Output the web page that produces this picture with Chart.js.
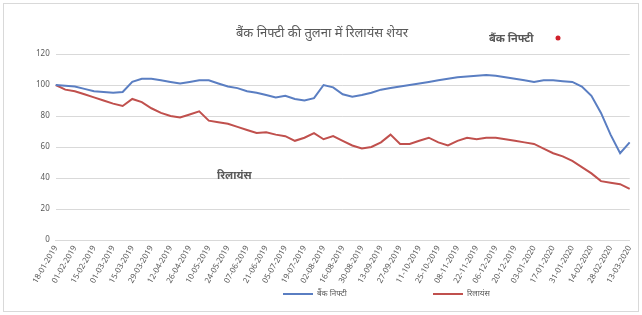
<!DOCTYPE html>
<html>
<head>
<meta charset="utf-8">
<script src="https://cdn.jsdelivr.net/npm/chart.js@4.4.1/dist/chart.umd.min.js"></script>
<style>
  html, body { margin: 0; padding: 0; background: #fff; }
  #wrap { width: 642px; height: 315px; position: relative; }
</style>
</head>
<body>
<div id="wrap"><canvas class="js-chart"></canvas></div>
<script>
const ctx = document.querySelector(".js-chart").getContext("2d");

// ===== data =====
const chartTitle = "बैंक निफ्टी की तुलना में रिलायंस शेयर";
const indexName = "बैंक निफ्टी";
const stockName = "रिलायंस";

const dates = [
  "18-01-2019", "25-01-2019", "01-02-2019", "08-02-2019", "15-02-2019", "22-02-2019",
  "01-03-2019", "08-03-2019", "15-03-2019", "22-03-2019", "29-03-2019", "05-04-2019",
  "12-04-2019", "19-04-2019", "26-04-2019", "03-05-2019", "10-05-2019", "17-05-2019",
  "24-05-2019", "31-05-2019", "07-06-2019", "14-06-2019", "21-06-2019", "28-06-2019",
  "05-07-2019", "12-07-2019", "19-07-2019", "26-07-2019", "02-08-2019", "09-08-2019",
  "16-08-2019", "23-08-2019", "30-08-2019", "06-09-2019", "13-09-2019", "20-09-2019",
  "27-09-2019", "04-10-2019", "11-10-2019", "18-10-2019", "25-10-2019", "01-11-2019",
  "08-11-2019", "15-11-2019", "22-11-2019", "29-11-2019", "06-12-2019", "13-12-2019",
  "20-12-2019", "27-12-2019", "03-01-2020", "10-01-2020", "17-01-2020", "24-01-2020",
  "31-01-2020", "07-02-2020", "14-02-2020", "21-02-2020", "28-02-2020", "06-03-2020",
  "13-03-2020"
];

const indexValues = [
  100, 99.5, 99, 97.5, 96, 95.5, 95, 95.5, 102, 104,
  104, 103, 102, 101, 102, 103, 103, 101, 99, 98,
  96, 95, 93.5, 92, 93, 91, 90, 91.5, 100, 98.5,
  94, 92.5, 93.5, 95, 97, 98, 99, 100, 101, 102,
  103, 104, 105, 105.5, 106, 106.5, 106, 105, 104, 103,
  102, 103, 103, 102.5, 102, 99, 93, 82, 68, 56,
  63
];

const stockValues = [
  100, 97, 96, 94, 92, 90, 88, 86.5, 91, 89,
  85, 82, 80, 79, 81, 83, 77, 76, 75, 73,
  71, 69, 69.5, 68, 67, 64, 66, 69, 65, 67,
  64, 61, 59, 60, 63, 68, 62, 62, 64, 66,
  63, 61, 64, 66, 65, 66, 66, 65, 64, 63,
  62, 59, 56, 54, 51, 47, 43, 38, 37, 36,
  33
];

const yTicks = [0, 20, 40, 60, 80, 100, 120];
// ===== data =====

const extras = {
  id: "extras",
  afterDraw(chart) {
    const c = chart.ctx;
    c.save();
    // frame
    c.strokeStyle = "#d9d9d9";
    c.lineWidth = 1;
    c.strokeRect(3.5, 3.5, 635, 308);

    // title
    c.fillStyle = "#595959";
    c.font = "13px 'Noto Sans', sans-serif";
    c.textAlign = "center";
    c.textBaseline = "middle";
    c.fillText(chartTitle, 322, 33);

    // notes
    c.textAlign = "left";
    c.font = "bold 11px 'Noto Sans', sans-serif";
    c.fillText(indexName, 489, 39);
    c.fillText(stockName, 217, 176);
    c.fillStyle = "#d0202a";
    c.beginPath();
    c.arc(558, 38, 2.5, 0, Math.PI * 2);
    c.fill();

    // legend
    const ds = chart.data.datasets;
    const legendY = 294;
    const spots = [283, 433];
    c.font = "8px 'Noto Sans', sans-serif";
    c.textBaseline = "middle";
    ds.forEach((d, i) => {
      c.strokeStyle = d.borderColor;
      c.lineWidth = 2;
      c.beginPath();
      c.moveTo(spots[i], legendY);
      c.lineTo(spots[i] + 30, legendY);
      c.stroke();
      c.fillStyle = "#595959";
      c.fillText(d.label, spots[i] + 34, legendY);
    });
    c.restore();
  },
};

new Chart(ctx, {
  type: "line",
  data: {
    labels: dates,
    datasets: [
      {
        label: indexName,
        data: indexValues,
        borderColor: "#5a7ec2",
        borderWidth: 2,
        radius: 0,
        tension: 0,
      },
      {
        label: stockName,
        data: stockValues,
        borderColor: "#c0504d",
        borderWidth: 2,
        radius: 0,
        tension: 0,
      },
    ],
  },
  options: {
    responsive: true,
    maintainAspectRatio: false,
    animation: false,
    layout: {
      padding: { left: 30, right: 10, top: 54, bottom: 26 },
    },
    plugins: {
      legend: { display: false },
      title: { display: false },
      tooltip: { enabled: false },
    },
    scales: {
      x: {
        offset: false,
        grid: { display: false, drawTicks: false },
        border: { color: "#d9d9d9" },
        ticks: {
          autoSkip: false,
          maxRotation: 60,
          minRotation: 60,
          padding: 4,
          color: "#595959",
          font: { size: 8, family: "'Noto Sans', sans-serif" },
          callback: function (value, index) {
            return index % 2 === 0 ? this.getLabelForValue(value) : "";
          },
        },
      },
      y: {
        min: 0,
        max: 120,
        afterBuildTicks: (axis) => {
          axis.ticks = yTicks.map((v) => ({ value: v }));
        },
        grid: { color: "#d9d9d9", drawTicks: false },
        border: { display: false },
        ticks: {
          padding: 6,
          color: "#595959",
          font: { size: 8, family: "'Noto Sans', sans-serif" },
        },
      },
    },
  },
  plugins: [extras],
});
</script>
</body>
</html>
